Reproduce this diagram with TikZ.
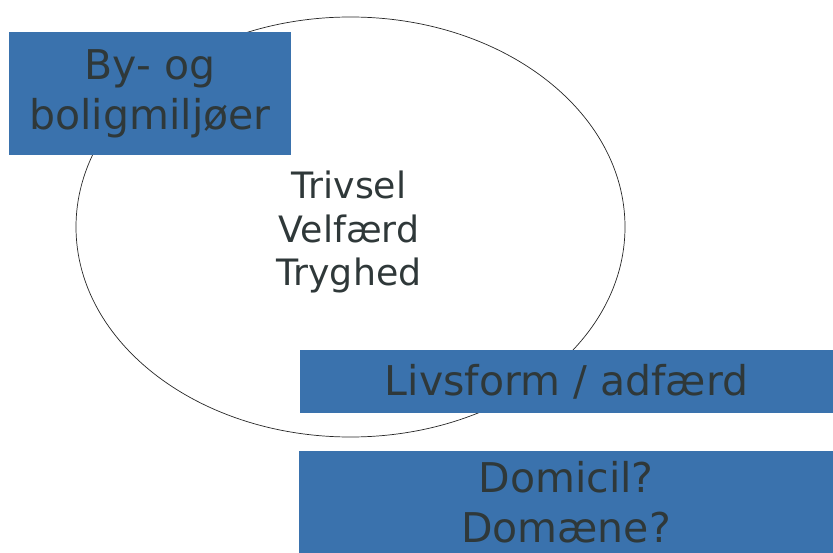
\documentclass[tikz,border=0pt]{standalone}
\usepackage{fontspec}
\setmainfont{DejaVu Sans}
\usepackage{xcolor}
\usetikzlibrary{shapes.geometric, positioning}
\definecolor{boxblue}{HTML}{3A72AD}
\definecolor{textgray}{HTML}{2F3839}
\tikzstyle{box} = [rectangle, fill=boxblue, inner sep=0pt, outer sep=0pt, align=center, text=textgray, font=\fontsize{35}{42.5}\selectfont]
\tikzstyle{ring} = [ellipse, draw=black!85, line width=0.6pt, inner sep=0pt]

\begin{document}
\begin{tikzpicture}[x=0.3mm, y=-0.3mm]
    \clip (0,0) rectangle (833,553);
    \useasboundingbox (0,0) rectangle (833,553);
    % ellipse behind the boxes
    \node[ring, minimum width=164.7mm, minimum height=126mm] (circle) at (350.5,227) {};
    \node[align=center, text=textgray, font=\fontsize{31}{37.4}\selectfont] (core) at (349,232) {Trivsel\\Velfærd\\Tryghed};
    % boxes
    \node[box, minimum width=84.6mm, minimum height=36.9mm] (city) at (150,93.5) {By- og\\boligmiljøer};
    \node[box, minimum width=159.9mm, minimum height=18.9mm] (life) at (566.5,381.5) {Livsform / adfærd};
    \node[box, minimum width=160.2mm, minimum height=30.6mm] (domicile) at (566,502) {Domicil?\\Domæne?};
\end{tikzpicture}
\end{document}
